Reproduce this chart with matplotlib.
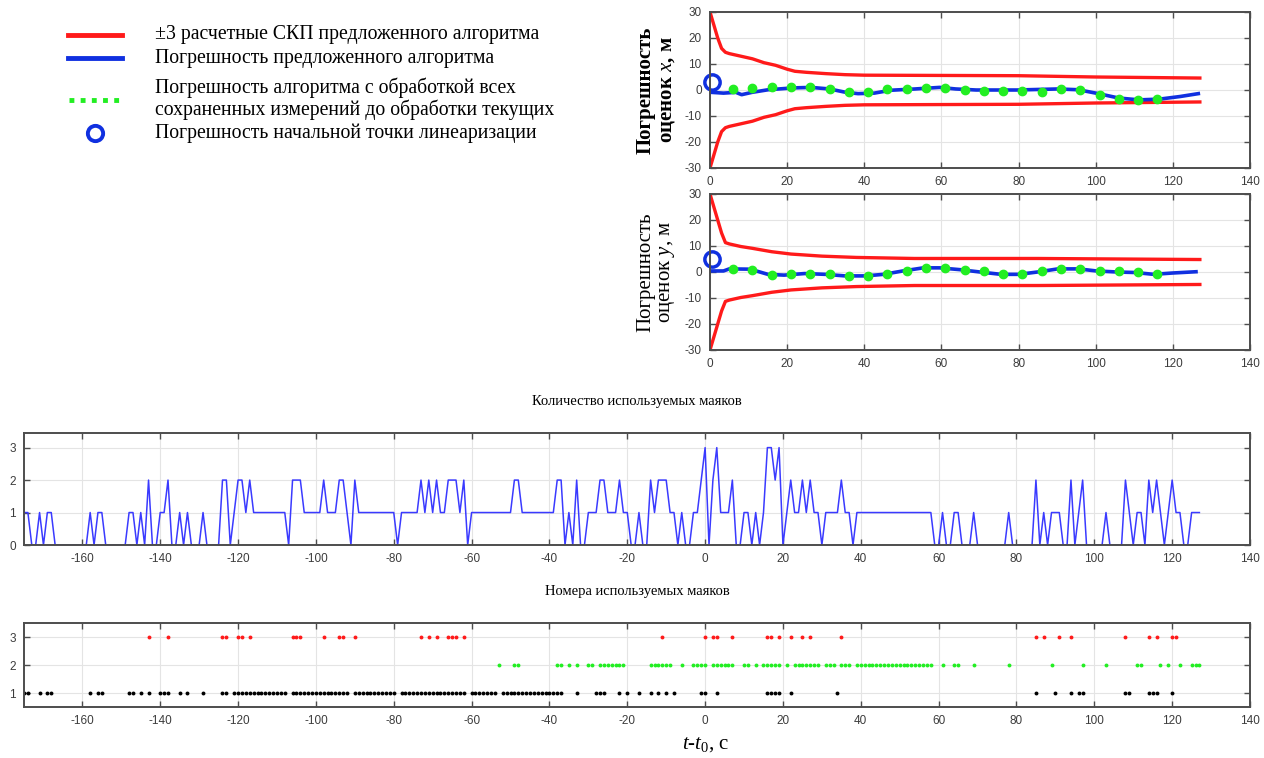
#!/usr/bin/env python3
"""Оценки погрешности и используемые маяки"""

import numpy as np
import matplotlib
matplotlib.use('Agg')
import matplotlib.pyplot as plt
from matplotlib.lines import Line2D

W, H = 1264, 758

# --- данные: ±3 СКП (x и y) ---
sig_t = [0, 1, 2, 3, 4, 5, 8, 11, 14, 17, 20, 22, 25, 30, 35, 40, 60, 80, 100, 127]
sig_x = [30, 25, 20, 16, 14.5, 14, 13, 12, 10.5, 9.5, 8, 7.2, 6.8, 6.3, 5.9, 5.7, 5.6, 5.5, 5.0, 4.6]
sig_y_t = [0, 1, 2, 3, 4, 5, 8, 11, 16, 21, 29, 38, 53, 85, 127]
sig_y = [30, 25, 20, 15, 11.3, 10.8, 9.8, 9.1, 7.8, 6.9, 6.1, 5.6, 5.2, 5.2, 4.8]

# --- погрешность предложенного алгоритма ---
err_x_t = [0.3, 3.5, 6.7, 8.2, 10.9, 15.1, 21.5, 26.2, 31, 35.2, 38.4, 42.6, 46.8, 53.2,
           59.5, 63.7, 69, 79.6, 90.2, 95.5, 100.7, 106, 111.3, 116.6, 121.9, 126.6]
err_x = [-0.9, -1.2, -0.9, -1.8, -0.9, 0.1, 0.8, 1.0, 0.4, -0.9, -1.4, -1.2, -0.1, 0.4,
         1.0, 0.4, 0.0, 0.0, 0.4, 0.1, -1.4, -3.1, -3.8, -3.5, -2.5, -1.4]
err_y_t = [0.3, 3.5, 5, 9.8, 12, 15, 19.2, 24.5, 29.9, 35, 40.3, 45, 50, 55.3, 59.5, 64.8,
           70, 75.4, 80.1, 84.9, 90.2, 95.5, 100.2, 105.5, 110.3, 115, 119.8, 126]
err_y = [0.4, 0.4, 1.2, 1.1, 0.4, -0.9, -1.2, -0.6, -0.9, -1.5, -1.5, -0.9, 0.4, 1.6, 1.6, 0.9,
         0.0, -0.9, -0.9, 0.0, 1.2, 1.2, 0.4, 0.0, -0.2, -0.9, -0.4, 0.1]

# --- алгоритм с обработкой всех сохраненных измерений ---
all_t = [6, 11, 16, 21, 26, 31, 36, 41, 46, 51, 56, 61, 66, 71, 76, 81, 86, 91, 96, 101, 106, 111, 116]
all_x = [0.4, 0.8, 1.0, 1.0, 1.2, 0.5, -0.7, -0.7, 0.4, 0.5, 0.8, 0.8, -0.1, -0.3, -0.4, -0.4,
         -0.7, 0.4, -0.1, -2.0, -3.3, -3.8, -3.5]
all_y = [1.2, 0.9, -1.0, -0.9, -0.6, -0.9, -1.6, -1.5, -0.9, 0.4, 1.6, 1.6, 0.9, 0.2, -0.6, -0.9,
         0.2, 1.2, 1.2, 0.4, 0.2, -0.1, -0.9]

# --- начальная точка линеаризации ---
lin_t = 0.5
lin_x = 3.0
lin_y = 5.0

# --- используемые маяки: интервалы времени [начало, конец], с ---
t_start, t_end = -175, 127
beacon1 = [[-175, -174], [-171, -171], [-169, -168], [-158, -158], [-156, -155], [-148, -147],
           [-145, -145], [-143, -143], [-140, -138], [-135, -135], [-133, -133], [-129, -129],
           [-124, -123], [-121, -108], [-106, -92], [-90, -80], [-78, -62], [-60, -54],
           [-52, -37], [-33, -33], [-28, -26], [-22, -22], [-20, -20], [-17, -17], [-14, -14],
           [-12, -12], [-10, -10], [-8, -8], [-1, 0], [3, 3], [16, 19], [22, 22], [34, 34],
           [85, 85], [90, 90], [94, 94], [96, 97], [108, 109], [114, 116], [120, 120]]
beacon2 = [[-53, -53], [-49, -48], [-38, -37], [-35, -35], [-33, -33], [-30, -29], [-27, -21],
           [-14, -9], [-6, -6], [-3, 0], [2, 7], [10, 11], [13, 13], [15, 19], [21, 21],
           [23, 29], [31, 33], [35, 37], [39, 58], [61, 61], [64, 65], [69, 69], [78, 78],
           [89, 89], [97, 97], [103, 103], [111, 112], [117, 117], [119, 119], [122, 122],
           [125, 127]]
beacon3 = [[-143, -143], [-138, -138], [-124, -123], [-120, -119], [-117, -117], [-106, -104],
           [-98, -98], [-94, -93], [-90, -90], [-73, -73], [-71, -71], [-69, -69], [-66, -64],
           [-62, -62], [-11, -11], [0, 0], [2, 3], [7, 7], [16, 17], [19, 19], [22, 22],
           [25, 25], [27, 27], [35, 35], [85, 85], [87, 87], [91, 91], [94, 94], [108, 108],
           [114, 114], [116, 116], [120, 121]]

legend_labels = ['±3 расчетные СКП предложенного алгоритма',
                 'Погрешность предложенного алгоритма',
                 'Погрешность алгоритма с обработкой всех\nсохраненных измерений до обработки текущих',
                 'Погрешность начальной точки линеаризации']

plt.rcParams['font.family'] = ['Liberation Serif', 'DejaVu Serif']
plt.rcParams['mathtext.fontset'] = 'custom'
plt.rcParams['mathtext.rm'] = 'Liberation Serif'
plt.rcParams['mathtext.it'] = 'Liberation Serif:italic'
plt.rcParams['mathtext.bf'] = 'Liberation Serif:bold'
plt.rcParams['axes.unicode_minus'] = False

TICK_FONT = ['Liberation Sans', 'DejaVu Sans']
FRAME = '#4d4d4d'
GRID = '#e4e4e4'
RED = '#ff1a1a'
BLUE = '#1030e0'
LIME = '#22ee22'


def box(left, top, right, bottom):
  return [left / W, 1 - bottom / H, (right - left) / W, (bottom - top) / H]


def style(ax):
  for sp in ax.spines.values():
    sp.set_color(FRAME)
    sp.set_linewidth(1.4)
  ax.tick_params(direction='in', length=4, width=1, color=FRAME, top=True, right=True,
                 labelsize=8.5, labelcolor='#3c3c3c', pad=6)
  for lab in ax.get_xticklabels() + ax.get_yticklabels():
    lab.set_family(TICK_FONT)
  ax.grid(True, color=GRID, linewidth=0.8)
  ax.set_axisbelow(True)


def expand(segments):
  out = []
  for a, b in segments:
    out.extend(range(a, b + 1))
  return np.array(out)


fig = plt.figure(figsize=(W / 100, H / 100), dpi=100)

# ---- верхние графики ----
ax1 = fig.add_axes(box(710, 12, 1250, 168))
ax2 = fig.add_axes(box(710, 194, 1250, 350))
tops = [(ax1, sig_t, sig_x, err_x_t, err_x, all_x, lin_x, 'x', 'bold'),
        (ax2, sig_y_t, sig_y, err_y_t, err_y, all_y, lin_y, 'y', 'normal')]
for ax, st, sv, et, ev, av, lv, name, weight in tops:
  sv = np.array(sv)
  ax.plot(st, sv, color=RED, lw=2.4)
  ax.plot(st, -sv, color=RED, lw=2.4)
  ax.plot(et, ev, color=BLUE, lw=2.6)
  ax.plot(all_t, av, 'o', color=LIME, ms=6, mec=LIME)
  ax.plot([lin_t], [lv], 'o', mfc='none', mec=BLUE, mew=2.5, ms=11, clip_on=False)
  ax.set_xlim(0, 140)
  ax.set_ylim(-30, 30)
  ax.set_xticks(np.arange(0, 141, 20))
  ax.set_yticks(np.arange(-30, 31, 10))
  style(ax)
  ax.set_ylabel('Погрешность\nоценок $' + name + '$, м', fontsize=15, fontweight=weight,
                linespacing=1.0)
  ax.yaxis.set_label_coords(-0.062, 0.5)

# ---- количество маяков ----
t = np.arange(t_start, t_end + 1)
b1, b2, b3 = expand(beacon1), expand(beacon2), expand(beacon3)
count = np.isin(t, b1).astype(int) + np.isin(t, b2) + np.isin(t, b3)

ax3 = fig.add_axes(box(24, 433, 1250, 545))
ax3.plot(t, count, color='#3a3aff', lw=1.1)
ax3.set_xlim(-175, 140)
ax3.set_ylim(0, 3.45)
ax3.set_xticks(np.arange(-160, 141, 20))
ax3.set_yticks([0, 1, 2, 3])
style(ax3)
ax3.set_title('Количество используемых маяков', fontsize=10.5, pad=20)

# ---- номера маяков ----
ax4 = fig.add_axes(box(24, 623, 1250, 707))
for times, num, col in [(b1, 1, 'black'), (b2, 2, LIME), (b3, 3, RED)]:
  ax4.plot(times, np.full(len(times), num), 'o', color=col, ms=2.8, mew=0)
ax4.set_xlim(-175, 140)
ax4.set_ylim(0.5, 3.5)
ax4.set_xticks(np.arange(-160, 141, 20))
ax4.set_yticks([1, 2, 3])
style(ax4)
ax4.set_title('Номера используемых маяков', fontsize=10.5, pad=20)
fig.text(706 / W, 1 - 745 / H, '$t$-$t_{\\rm 0}$, с', fontsize=15, ha='center', va='center')

# ---- легенда ----
def fx(px):
  return px / W


def fy(py):
  return 1 - py / H


fig.add_artist(Line2D([fx(68), fx(122)], [fy(35), fy(35)], color=RED, lw=3.5,
                      transform=fig.transFigure))
fig.add_artist(Line2D([fx(68), fx(122)], [fy(58), fy(58)], color=BLUE, lw=3.5,
                      transform=fig.transFigure))
fig.add_artist(Line2D([fx(69), fx(122)], [fy(100), fy(100)], color=LIME, lw=3.5,
                      ls=(0, (1, 1.3)), transform=fig.transFigure))
fig.add_artist(Line2D([fx(95)], [fy(133)], marker='o', mfc='none', mec=BLUE, mew=2.8, ms=11,
                      transform=fig.transFigure))
for lab, py in zip(legend_labels, [35, 58, 99, 133]):
  fig.text(fx(155), fy(py), lab, fontsize=14.2, va='center', ha='left', linespacing=1.1)

fig.savefig('out.png', dpi=100)
